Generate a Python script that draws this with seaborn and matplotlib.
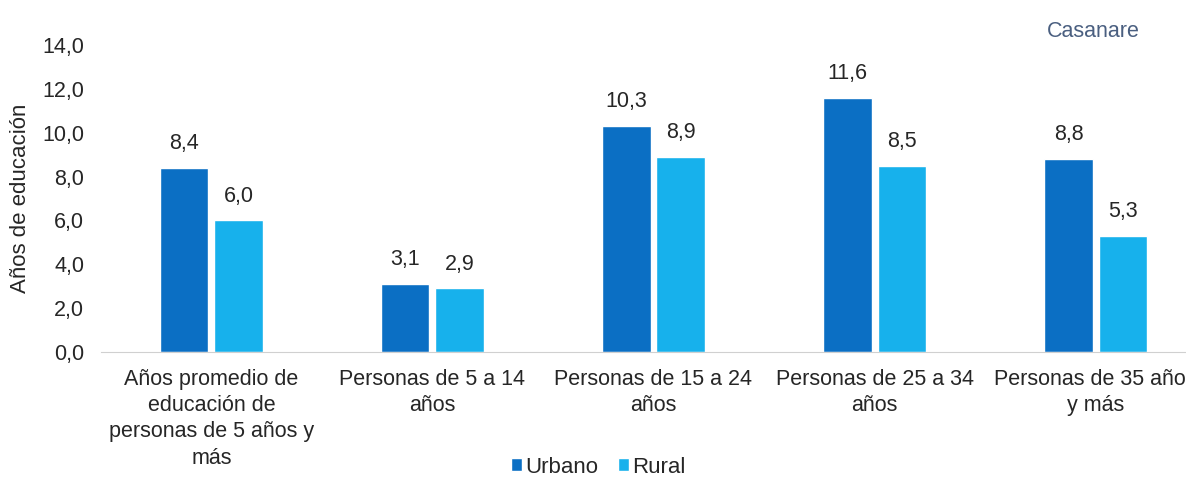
import pandas as pd
import seaborn as sns
import matplotlib.pyplot as plt

categorias = [
    "Años promedio de\neducación de\npersonas de 5 años y\nmás",
    "Personas de 5 a 14\naños",
    "Personas de 15 a 24\naños",
    "Personas de 25 a 34\naños",
    "Personas de 35 años\ny más",
]
urbano = [8.4, 3.1, 10.3, 11.6, 8.8]
rural = [6.0, 2.9, 8.9, 8.5, 5.3]

df = pd.DataFrame({
    "categoria": categorias * 2,
    "zona": ["Urbano"] * 5 + ["Rural"] * 5,
    "valor": urbano + rural,
})

sns.set_style("white")
plt.rcParams["font.family"] = ["Liberation Sans", "DejaVu Sans"]

fig = plt.figure(figsize=(11.86, 4.79), dpi=100)
ax = fig.add_axes([0.085, 0.265, 0.932, 0.641])

sns.barplot(data=df, x="categoria", y="valor", hue="zona",
            palette={"Urbano": "#0B6FC4", "Rural": "#17B1EC"},
            saturation=1, width=0.49, gap=0.11, ax=ax)

for cont in ax.containers:
    ax.bar_label(cont, labels=[f"{v:.1f}".replace(".", ",") for v in cont.datavalues],
                 padding=10, fontsize=15.5, color="#262626")

ax.set_ylim(0, 14)
ax.set_yticks(range(0, 15, 2))
ax.set_yticklabels([f"{t:.1f}".replace(".", ",") for t in range(0, 15, 2)], fontsize=15.5, color="#262626")
ax.set_xticks(range(len(categorias)))
ax.set_xticklabels(categorias, fontsize=15.5, color="#262626", linespacing=1.33)
ax.tick_params(axis="x", length=0, pad=12)
ax.tick_params(axis="y", length=0, pad=12)
ax.set_xlabel("")
ax.set_ylabel("Años de educación", fontsize=16, color="#262626", labelpad=8)

for s in ["top", "right", "left"]:
    ax.spines[s].set_visible(False)
ax.spines["bottom"].set_color("#d0d0d0")

ax.legend(loc="center", bbox_to_anchor=(0.45, -0.375), ncol=2, frameon=False,
          fontsize=16, handlelength=0.5, handleheight=0.5, handletextpad=0.15, columnspacing=0.9)

fig.text(0.961, 0.935, "Casanare", fontsize=15.5, color="#4A5F80", ha="right", va="center")

fig.savefig("out.png", dpi=100)
